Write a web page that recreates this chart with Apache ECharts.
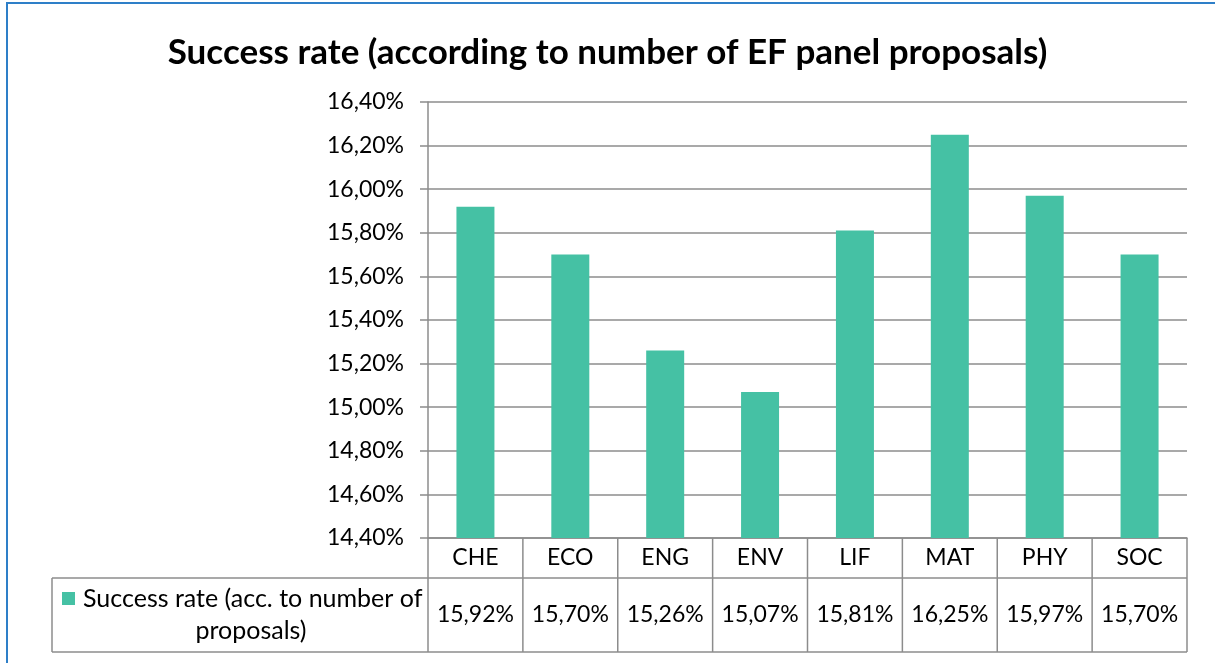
<!DOCTYPE html>
<html>
<head>
<meta charset="utf-8">
<title>Success rate</title>
<script src="https://cdn.jsdelivr.net/npm/echarts@6/dist/echarts.min.js"></script>
<style>
  html, body { margin: 0; padding: 0; background: #fff; }
  #main { width: 1215px; height: 663px; }
</style>
</head>
<body>
<div id="main"></div>
<script>
// data
const categories = ['CHE', 'ECO', 'ENG', 'ENV', 'LIF', 'MAT', 'PHY', 'SOC'];
const successRate = [15.92, 15.70, 15.26, 15.07, 15.81, 16.25, 15.97, 15.70];
const seriesName = 'Success rate (acc. to number of proposals)';
const yMin = 14.4;
const yMax = 16.4;
const yStep = 0.2;

const font = 'Lato, "Open Sans", sans-serif';
const lineColor = '#8c8c8c';
const barColor = '#45c1a4';

// layout of plot + data table
const plotLeft = 428, plotRight = 1187, plotTop = 102, plotBottom = 538;
const rowMid = 578, tableBottom = 652, legendLeft = 52;

function pct(v) {
  return v.toFixed(2).replace('.', ',') + '%';
}

const chartDom = document.getElementById('main');
const myChart = echarts.init(chartDom);

// table lines
const colW = (plotRight - plotLeft) / categories.length;
const tableLines = [];
for (let i = 0; i <= categories.length; i++) {
  const x = plotLeft + colW * i;
  tableLines.push({ x1: x, y1: plotBottom, x2: x, y2: tableBottom });
}
tableLines.push({ x1: legendLeft, y1: rowMid, x2: plotRight, y2: rowMid });
tableLines.push({ x1: legendLeft, y1: tableBottom, x2: plotRight, y2: tableBottom });
tableLines.push({ x1: legendLeft, y1: rowMid, x2: legendLeft, y2: tableBottom });

const graphics = tableLines.map(function (s) {
  return { type: 'line', shape: s, style: { stroke: lineColor, lineWidth: 1.5 }, silent: true };
});
// legend key in the table
graphics.push({
  type: 'rect', shape: { x: 62, y: 592, width: 13, height: 13 },
  style: { fill: barColor }
});
graphics.push({
  type: 'text', x: 83, y: 599,
  style: { text: 'Success rate (acc. to number of', font: '25px ' + font, fill: '#000', textVerticalAlign: 'middle' }
});
graphics.push({
  type: 'text', x: 251, y: 631,
  style: { text: 'proposals)', font: '25px ' + font, fill: '#000', textAlign: 'center', textVerticalAlign: 'middle' }
});
// outer frame: only left and top sides are inside the picture
graphics.push({
  type: 'polyline', shape: { points: [[7, 663], [7, 3], [1215, 3]] },
  style: { fill: 'none', stroke: '#2e7fc8', lineWidth: 2 }, silent: true
});

const option = {
  animation: false,
  backgroundColor: '#fff',
  title: {
    text: 'Success rate (according to number of EF panel proposals)',
    left: 'center',
    top: 30,
    textStyle: { fontFamily: font, fontSize: 35, fontWeight: 'bold', color: '#000' }
  },
  grid: {
    left: plotLeft,
    right: 1215 - plotRight,
    top: plotTop,
    bottom: 663 - plotBottom
  },
  xAxis: {
    type: 'category',
    data: categories,
    axisLine: { show: true, lineStyle: { color: lineColor, width: 1.5 } },
    axisTick: { show: false },
    axisLabel: {
      margin: 0,
      interval: 0,
      formatter: function (val, idx) {
        return '{a|' + val + '}\n{b|' + pct(successRate[idx]) + '}';
      },
      rich: {
        a: { fontFamily: font, fontSize: 23, color: '#000', lineHeight: 40, height: 40 },
        b: { fontFamily: font, fontSize: 23, color: '#000', lineHeight: 74, height: 74 }
      }
    }
  },
  yAxis: {
    type: 'value',
    min: yMin,
    max: yMax,
    interval: yStep,
    axisLine: { show: true, lineStyle: { color: lineColor, width: 1.5 } },
    axisTick: { show: true, length: 8, lineStyle: { color: lineColor, width: 1.5 } },
    splitLine: { show: true, lineStyle: { color: lineColor, width: 1.5 } },
    axisLabel: {
      margin: 24,
      fontFamily: font,
      fontSize: 23,
      color: '#000',
      formatter: function (v) { return pct(v); }
    }
  },
  series: [
    {
      name: seriesName,
      type: 'bar',
      data: successRate,
      barWidth: 38,
      itemStyle: { color: barColor }
    }
  ],
  graphic: graphics
};

myChart.setOption(option);
</script>
</body>
</html>
